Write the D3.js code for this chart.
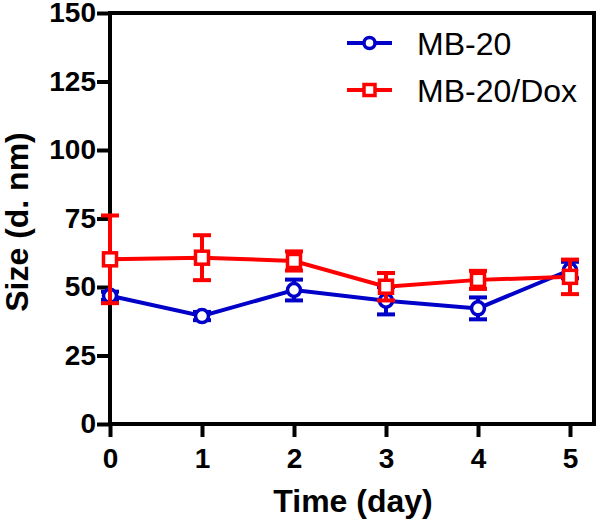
<!DOCTYPE html>
<html>
<head>
<meta charset="utf-8">
<script src="https://cdn.jsdelivr.net/npm/d3@7"></script>
<style>
html,body{margin:0;padding:0;background:#fff;}
svg{display:block;}
text{font-family:"Liberation Sans",Arial,sans-serif;}
</style>
</head>
<body>
<svg id="chart" width="600" height="522"></svg>
<script>
const days = [0, 1, 2, 3, 4, 5];
const seriesNames = ["MB-20", "MB-20/Dox"];
const mb20 = [46.8, 39.4, 48.9, 45.0, 42.2, 56.2];
const mb20Err = [1.5, 1.5, 3.8, 5.0, 4.0, 3.0];
const mb20Dox = [60.1, 60.7, 59.5, 50.1, 52.6, 53.7];
const mb20DoxErr = [16.0, 8.2, 3.5, 5.0, 3.3, 6.3];
const yTicks = [0, 25, 50, 75, 100, 125, 150];
const xTicks = [0, 1, 2, 3, 4, 5];
const xTitle = "Time (day)";
const yTitle = "Size (d. nm)";

(function () {
const svg = d3.select("#chart");
const pL = 110, pT = 13, pR = 594, pB = 424;
const x = d3.scaleLinear().domain([0, 5]).range([pL, 570]);
const y = d3.scaleLinear().domain([0, 150]).range([pB, pT]);

// frame
svg.append("rect").attr("x", pL).attr("y", pT)
  .attr("width", pR - pL).attr("height", pB - pT)
  .attr("fill", "none").attr("stroke", "#000").attr("stroke-width", 4);

// axes
const yAxis = svg.append("g").attr("transform", `translate(${pL},0)`)
  .call(d3.axisLeft(y).tickValues(yTicks).tickFormat(d3.format("d"))
    .tickSize(13).tickSizeOuter(0).tickPadding(1));
const xAxis = svg.append("g").attr("transform", `translate(0,${pB})`)
  .call(d3.axisBottom(x).tickValues(xTicks).tickFormat(d3.format("d"))
    .tickSize(13).tickSizeOuter(0).tickPadding(11));
[yAxis, xAxis].forEach(a => {
  a.select(".domain").remove();
  a.selectAll(".tick line").attr("stroke", "#000").attr("stroke-width", 4);
  a.selectAll(".tick text").attr("fill", "#000")
    .style("font-size", "28px").style("font-weight", "bold")
    .style("font-family", "'Liberation Sans',Arial,sans-serif");
});

// titles
svg.append("text").attr("x", 353).attr("y", 512)
  .attr("text-anchor", "middle").style("font-size", "32px").style("font-weight", "bold")
  .text(xTitle);
svg.append("text").attr("transform", "translate(28,222) rotate(-90)")
  .attr("text-anchor", "middle").style("font-size", "32px").style("font-weight", "bold")
  .text(yTitle);

const series = [
  {name: seriesNames[0], vals: mb20, err: mb20Err, color: "#0000c8", shape: "circle"},
  {name: seriesNames[1], vals: mb20Dox, err: mb20DoxErr, color: "#ff0000", shape: "square"}
];

const line = d3.line().x((d, i) => x(days[i])).y(d => y(d));
const capW = 18;

function drawMarker(g, cx, cy, s, size) {
  if (s.shape === "circle") {
    g.append("circle").attr("cx", cx).attr("cy", cy).attr("r", size)
      .attr("fill", "#fff").attr("stroke", s.color).attr("stroke-width", 3.5);
  } else {
    g.append("rect").attr("x", cx - size).attr("y", cy - size)
      .attr("width", size * 2).attr("height", size * 2)
      .attr("fill", "#fff").attr("stroke", s.color).attr("stroke-width", 3.5);
  }
}

series.forEach(s => {
  const g = svg.append("g");
  g.append("path").datum(s.vals).attr("d", line)
    .attr("fill", "none").attr("stroke", s.color).attr("stroke-width", 4);
  s.vals.forEach((v, i) => {
    const cx = x(days[i]);
    const hi = y(v + s.err[i]), lo = y(v - s.err[i]);
    g.append("line").attr("x1", cx).attr("x2", cx).attr("y1", hi).attr("y2", lo)
      .attr("stroke", s.color).attr("stroke-width", 4);
    [hi, lo].forEach(yy => g.append("line").attr("x1", cx - capW / 2).attr("x2", cx + capW / 2)
      .attr("y1", yy).attr("y2", yy).attr("stroke", s.color).attr("stroke-width", 4));
  });
  s.vals.forEach((v, i) => drawMarker(g, x(days[i]), y(v), s, 6.5));
});

// legend
const legY = [43, 90];
series.forEach((s, i) => {
  const g = svg.append("g");
  g.append("line").attr("x1", 347).attr("x2", 392).attr("y1", legY[i]).attr("y2", legY[i])
    .attr("stroke", s.color).attr("stroke-width", 4);
  drawMarker(g, 369.5, legY[i], s, 5.5);
  g.append("text").attr("x", 417).attr("y", legY[i] + 12)
    .style("font-size", "32px").attr("fill", "#000").text(s.name);
});
})();
</script>
</body>
</html>
